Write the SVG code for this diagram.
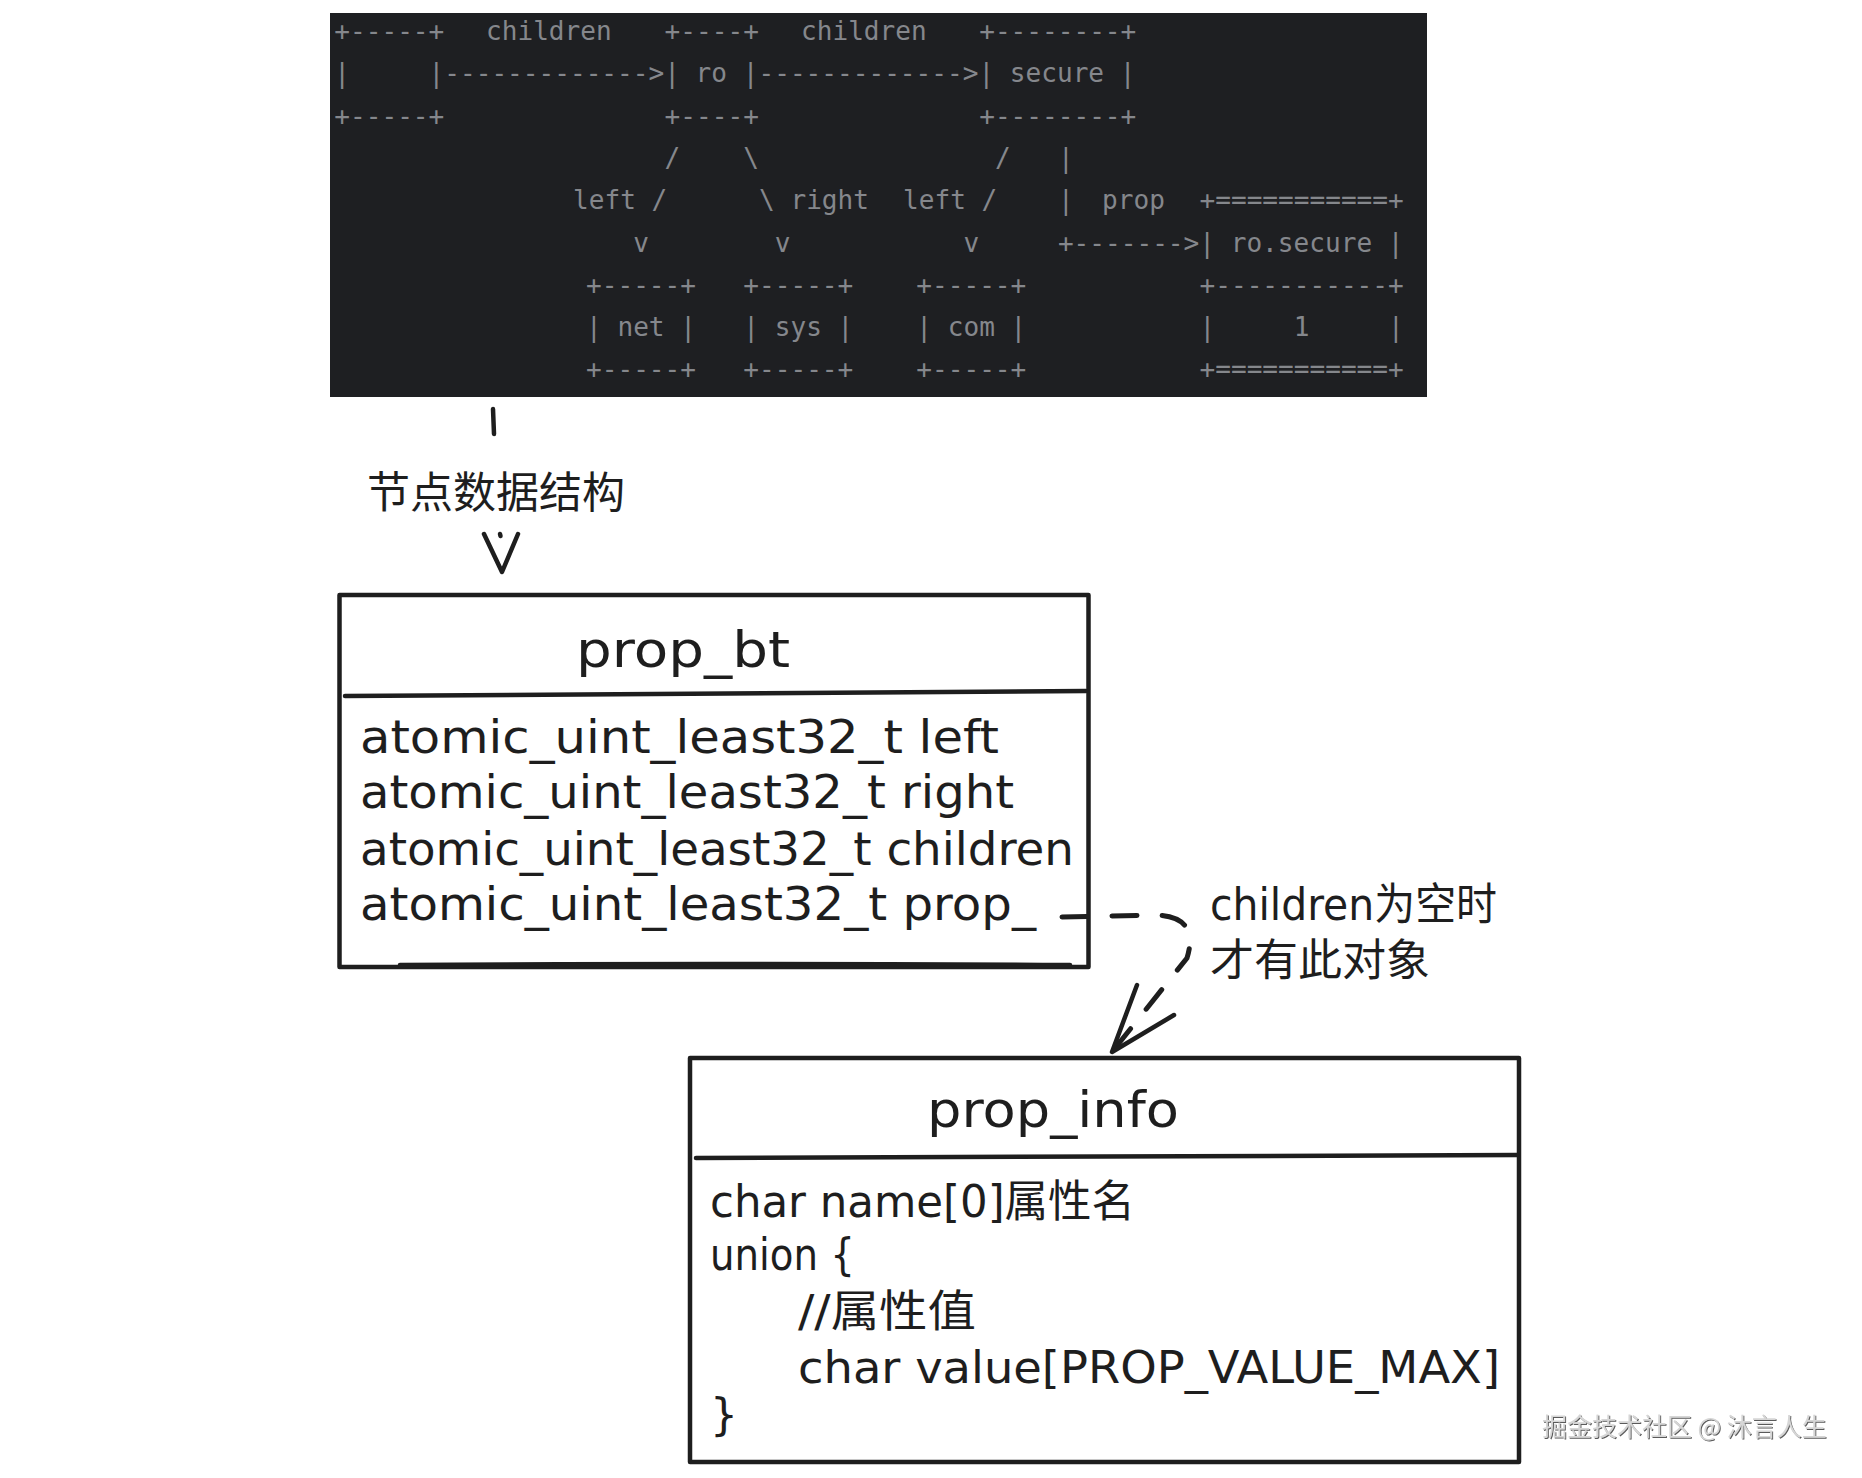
<svg xmlns="http://www.w3.org/2000/svg" width="1862" height="1478" viewBox="0 0 1862 1478">
<defs>
<style>
.mono{font-family:"DejaVu Sans Mono","Liberation Mono",monospace;font-size:26.1px;fill:#85878c;white-space:pre}
.hand{font-family:"DejaVu Sans","Noto Sans CJK SC",sans-serif;fill:#1e1e1e}
.cjk{font-family:"Noto Sans CJK SC",sans-serif;fill:#1e1e1e}
.box{fill:#ffffff;stroke:#1e1e1e;stroke-width:4.5;stroke-linejoin:round}
.ln{fill:none;stroke:#1e1e1e;stroke-width:4.5;stroke-linecap:round;stroke-linejoin:round}
.dash{fill:none;stroke:#1e1e1e;stroke-width:5;stroke-linecap:round;stroke-dasharray:25 25}
.wm{font-family:"Noto Sans CJK SC",sans-serif;font-size:25px;fill:#d6d6d6}
</style>
<filter id="wmShadow" x="-5%" y="-20%" width="110%" height="140%">
<feDropShadow dx="1" dy="1" stdDeviation="0.7" flood-color="#4a4a4a" flood-opacity="0.9"/>
</filter>
</defs>
<rect x="0" y="0" width="1862" height="1478" fill="#ffffff"/>

<g id="ascii-tree">
<rect x="330" y="13" width="1097" height="384" fill="#1e1f22"/>
<g class="mono">
<text x="334.3" y="40">+-----+</text>
<text x="486" y="40">children</text>
<text x="664.6" y="40">+----+</text>
<text x="801" y="40">children</text>
<text x="979.2" y="40">+--------+</text>
<text x="334.3" y="82.3">|&#160;&#160;&#160;&#160;&#160;|-------------&gt;|&#160;ro&#160;|-------------&gt;|&#160;secure&#160;|</text>
<text x="334.3" y="124.6">+-----+</text>
<text x="664.6" y="124.6">+----+</text>
<text x="979.2" y="124.6">+--------+</text>
<text x="664.6" y="166.9">/</text>
<text x="743.3" y="166.9">\</text>
<text x="994.9" y="166.9">/</text>
<text x="1057.9" y="166.9">|</text>
<text x="573" y="209.2">left&#160;/</text>
<text x="759.0" y="209.2">\&#160;right</text>
<text x="903" y="209.2">left&#160;/</text>
<text x="1057.9" y="209.2">|</text>
<text x="1102" y="209.2">prop</text>
<text x="1199.5" y="209.2">+===========+</text>
<text x="633.2" y="251.5">v</text>
<text x="774.7" y="251.5">v</text>
<text x="963.5" y="251.5">v</text>
<text x="1057.9" y="251.5">+-------&gt;|&#160;ro.secure&#160;|</text>
<text x="586.0" y="293.8">+-----+</text>
<text x="743.3" y="293.8">+-----+</text>
<text x="916.3" y="293.8">+-----+</text>
<text x="1199.5" y="293.8">+-----------+</text>
<text x="586.0" y="336.1">|&#160;net&#160;|</text>
<text x="743.3" y="336.1">|&#160;sys&#160;|</text>
<text x="916.3" y="336.1">|&#160;com&#160;|</text>
<text x="1199.5" y="336.1">|&#160;&#160;&#160;&#160;&#160;1&#160;&#160;&#160;&#160;&#160;|</text>
<text x="586.0" y="378.4">+-----+</text>
<text x="743.3" y="378.4">+-----+</text>
<text x="916.3" y="378.4">+-----+</text>
<text x="1199.5" y="378.4">+===========+</text>
</g>
</g>

<g id="prop_bt">
<rect class="box" x="339.5" y="595" width="749" height="372"/>
<path class="ln" d="M400 965 Q700 963 1070 965" stroke-width="3"/>
<path class="ln" d="M345 696 L1086 691"/>
<text class="hand" x="576" y="667" font-size="50" textLength="214" lengthAdjust="spacingAndGlyphs">prop_bt</text>
<text class="hand" x="360" y="753" font-size="46" textLength="639" lengthAdjust="spacingAndGlyphs">atomic_uint_least32_t left</text>
<text class="hand" x="360" y="808" font-size="46" textLength="654" lengthAdjust="spacingAndGlyphs">atomic_uint_least32_t right</text>
<text class="hand" x="360" y="865" font-size="46" textLength="714" lengthAdjust="spacingAndGlyphs">atomic_uint_least32_t children</text>
<text class="hand" x="360" y="920" font-size="46" textLength="676" lengthAdjust="spacingAndGlyphs">atomic_uint_least32_t prop_</text>
</g>

<g id="prop_info">
<rect class="box" x="690" y="1058" width="829" height="404"/>
<path class="ln" d="M696 1158 L1517 1155"/>
<text class="hand" x="927" y="1127" font-size="50" textLength="252" lengthAdjust="spacingAndGlyphs">prop_info</text>
<text class="hand" x="710" y="1217" font-size="44" textLength="425" lengthAdjust="spacingAndGlyphs">char name[0]属性名</text>
<text class="hand" x="710" y="1270" font-size="44" textLength="145" lengthAdjust="spacingAndGlyphs">union {</text>
<text class="hand" x="798" y="1327" font-size="44" textLength="178" lengthAdjust="spacingAndGlyphs">//属性值</text>
<text class="hand" x="798" y="1383" font-size="44" textLength="702" lengthAdjust="spacingAndGlyphs">char value[PROP_VALUE_MAX]</text>
<text class="hand" x="710" y="1430" font-size="44">}</text>
</g>

<g id="connectors">
<g id="edge-tree-to-prop_bt">
<path class="ln" d="M493 409 L494 434"/>
<path class="ln" d="M500 534 L500.5 536"/>
<path class="ln" d="M484 534 L502 572 L518 534" stroke-width="5"/>
<text class="cjk" x="367" y="508" font-size="43">节点数据结构</text>
</g>
<g id="edge-prop_bt-to-prop_info">
<path class="dash" d="M1062 917 L1155 915 Q1200 916 1187 958 L1112 1052"/>
<path class="ln" d="M1137 985 L1112 1052 L1174 1015" stroke-width="5"/>
<text class="hand" x="1210" y="920" font-size="44" textLength="287" lengthAdjust="spacingAndGlyphs">children为空时</text>
<text class="cjk" x="1210" y="976" font-size="44">才有此对象</text>
</g>
</g>

<text class="wm" x="1542" y="1436" filter="url(#wmShadow)">掘金技术社区 @ 沐言人生</text>
</svg>
